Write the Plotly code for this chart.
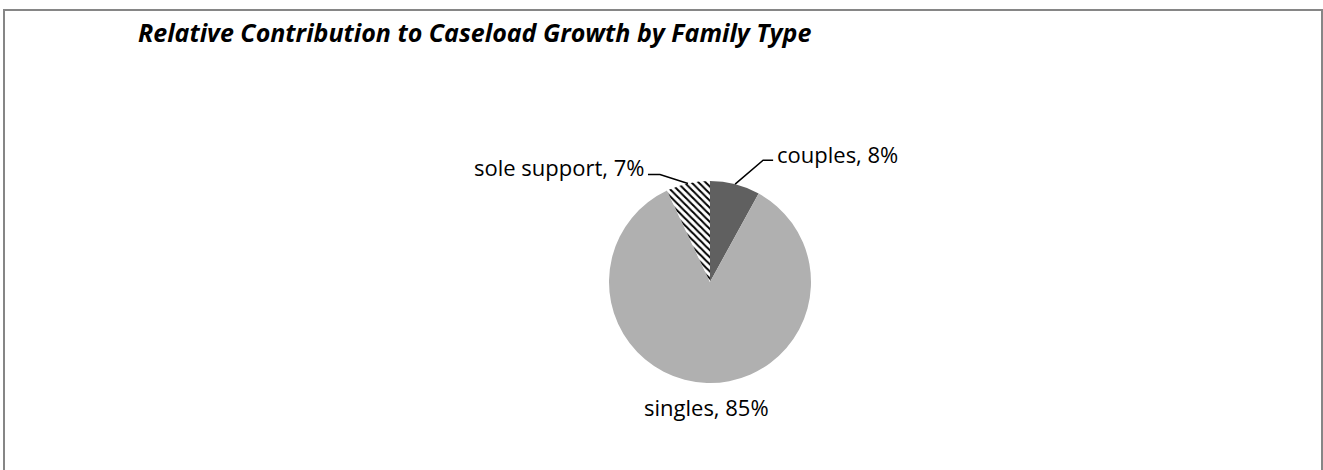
import math
import plotly.graph_objects as go

# ---- data ----
categories = ["couples", "singles", "sole support"]
shares = [8, 85, 7]
slice_colors = ["#606060", "#b0b0b0", "#ffffff"]
title_text = "Relative Contribution to Caseload Growth by Family Type"

W, H = 1323, 470
CX, CY, R = 710, 282, 101  # pie centre / radius in pixels

def px_x(x):
    return x / W

def px_y(y):
    return 1 - y / H

fig = go.Figure()
fig.add_trace(go.Pie(
    labels=categories,
    values=shares,
    sort=False,
    direction="clockwise",
    rotation=0,
    textinfo="none",
    hoverinfo="label+percent",
    showlegend=False,
    marker=dict(
        colors=slice_colors,
        line=dict(width=0),
        pattern=dict(
            shape=["", "", "\\"],
            fgcolor="#000000",
            bgcolor="#ffffff",
            size=5,
            solidity=0.4,
        ),
    ),
    domain=dict(x=[px_x(CX - R), px_x(CX + R)], y=[px_y(CY + R), px_y(CY - R)]),
))

# mid angles (clockwise from top) computed from data
total = sum(shares)
mids = []
acc = 0
for v in shares:
    mids.append((acc + v / 2) / total * 2 * math.pi)
    acc += v

def edge(i):
    a = mids[i]
    return CX + R * math.sin(a), CY - R * math.cos(a)

FONT = "'Open Sans', sans-serif"
font_lbl = dict(family=FONT, size=22, color="#000000")

shapes = []
annotations = []

# couples label with leader line
ex, ey = edge(0)
kx, ky = ex + 28, ey - 24
shapes.append(dict(type="path", xref="paper", yref="paper",
                   path=f"M {px_x(ex)} {px_y(ey)} L {px_x(kx)} {px_y(ky)} L {px_x(kx + 10)} {px_y(ky)}",
                   line=dict(color="#000000", width=1.5)))
annotations.append(dict(x=px_x(kx + 12), y=px_y(ky - 6), xref="paper", yref="paper",
                        xanchor="left", yanchor="middle", showarrow=False,
                        text=f"{categories[0]}, {shares[0]}%", font=font_lbl))

# sole support label with leader line
ex, ey = edge(2)
kx, ky = ex - 28, ey - 9
shapes.append(dict(type="path", xref="paper", yref="paper",
                   path=f"M {px_x(ex)} {px_y(ey)} L {px_x(kx)} {px_y(ky)} L {px_x(kx - 12)} {px_y(ky)}",
                   line=dict(color="#000000", width=1.5)))
annotations.append(dict(x=px_x(kx - 14), y=px_y(ky - 7), xref="paper", yref="paper",
                        xanchor="right", yanchor="middle", showarrow=False,
                        text=f"{categories[2]}, {shares[2]}%", font=font_lbl))

# singles label below
ex, ey = edge(1)
annotations.append(dict(x=px_x(ex), y=px_y(ey + 24), xref="paper", yref="paper",
                        xanchor="center", yanchor="middle", showarrow=False,
                        text=f"{categories[1]}, {shares[1]}%", font=font_lbl))

# title
annotations.append(dict(x=px_x(136), y=px_y(32), xref="paper", yref="paper",
                        xanchor="left", yanchor="middle", showarrow=False,
                        text=f"<b><i>{title_text}</i></b>",
                        font=dict(family=FONT, size=25, color="#000000")))

# chart border
shapes.append(dict(type="rect", xref="paper", yref="paper",
                   x0=px_x(4), x1=px_x(1322), y0=px_y(480), y1=px_y(10),
                   line=dict(color="#868686", width=2), fillcolor="rgba(0,0,0,0)"))

fig.update_layout(
    width=W, height=H,
    margin=dict(l=0, r=0, t=0, b=0),
    paper_bgcolor="#ffffff",
    plot_bgcolor="#ffffff",
    shapes=shapes,
    annotations=annotations,
)

fig.write_html("out.html",
               config={"displayModeBar": False},
               post_script="document.body.style.margin='0';document.body.style.overflow='hidden';")
